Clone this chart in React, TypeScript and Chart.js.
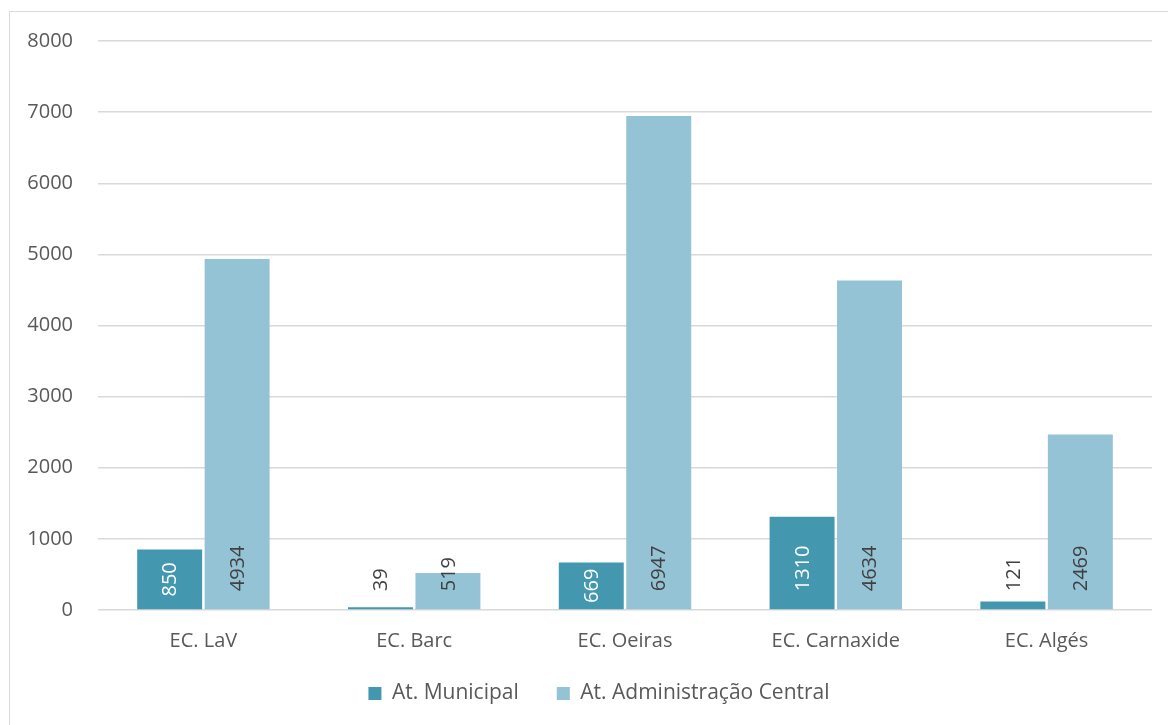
import React, { useEffect, useRef } from "react";
import { Chart, registerables } from "chart.js";

Chart.register(...registerables);

const categories = ["EC. LaV", "EC. Barc", "EC. Oeiras", "EC. Carnaxide", "EC. Algés"];
const seriesNames = ["At. Municipal", "At. Administração Central"];
const municipal = [850, 39, 669, 1310, 121];
const adminCentral = [4934, 519, 6947, 4634, 2469];
const yTicks = [0, 1000, 2000, 3000, 4000, 5000, 6000, 7000, 8000];

const DARK = "#4397AF";
const LIGHT = "#93C3D5";
const TEXT = "#595959";
const FONT = "'Open Sans', sans-serif";

const labelPlugin = {
  id: "barLabels",
  afterDatasetsDraw(chart: any) {
    const ctx = chart.ctx;
    ctx.save();
    ctx.font = `20px ${FONT}`;
    ctx.textAlign = "left";
    ctx.textBaseline = "middle";
    chart.data.datasets.forEach((ds: any, di: number) => {
      const meta = chart.getDatasetMeta(di);
      meta.data.forEach((bar: any, i: number) => {
        const v = ds.data[i];
        const txt = String(v);
        const w = ctx.measureText(txt).width;
        const h = bar.base - bar.y;
        const inside = h > w + 6;
        let offset = 18;
        if (inside) offset = Math.min(18, (h - w) / 2);
        ctx.fillStyle = di === 0 && inside ? "#ffffff" : "#404040";
        ctx.save();
        ctx.translate(bar.x, bar.base - offset);
        ctx.rotate(-Math.PI / 2);
        ctx.fillText(txt, 0, 1);
        ctx.restore();
      });
    });
    ctx.restore();
  },
};

const legendPlugin = {
  id: "legendPlace",
  afterInit(chart: any) {
    const legend = chart.legend;
    if (!legend || legend.__patched) return;
    const orig = legend.fit.bind(legend);
    legend.fit = function () {
      orig();
      this.height = 71;
    };
    legend.__patched = true;
  },
  afterLayout(chart: any) {
    const legend = chart.legend;
    if (!legend) return;
    const dx = 18;
    const dy = -9;
    legend.left += dx;
    legend.right += dx;
    legend.top += dy;
    legend.bottom += dy;
  },
};

export default function App() {
  const ref = useRef<HTMLCanvasElement>(null);
  useEffect(() => {
    document.body.style.margin = "0";
    document.body.style.overflow = "hidden";
    const chart = new Chart(ref.current as HTMLCanvasElement, {
      type: "bar",
      data: {
        labels: categories,
        datasets: [
          {
            label: seriesNames[0],
            data: municipal,
            backgroundColor: DARK,
            borderWidth: 0,
            categoryPercentage: 0.64,
            barPercentage: 0.963,
          },
          {
            label: seriesNames[1],
            data: adminCentral,
            backgroundColor: LIGHT,
            borderWidth: 0,
            categoryPercentage: 0.64,
            barPercentage: 0.963,
          },
        ],
      },
      options: {
        animation: false,
        responsive: false,
        maintainAspectRatio: false,
        layout: { padding: { left: 0, right: 36, top: 29, bottom: 0 } },
        plugins: {
          tooltip: { enabled: false },
          legend: {
            position: "bottom",
            labels: {
              boxWidth: 13,
              boxHeight: 13,
              padding: 38,
              color: TEXT,
              font: { family: FONT, size: 21 },
            },
          },
        },
        scales: {
          x: {
            grid: { display: false, drawTicks: false },
            border: { display: false },
            ticks: { color: TEXT, font: { family: FONT, size: 20 }, padding: 19 },
            afterFit(scale: any) {
              scale.height = 44;
            },
          },
          y: {
            min: 0,
            max: 8000,
            afterBuildTicks(scale: any) {
              scale.ticks = yTicks.map((v) => ({ value: v }));
            },
            grid: { color: "#d9d9d9", lineWidth: 1.5, drawTicks: false },
            border: { display: false },
            ticks: {
              color: TEXT,
              font: { family: FONT, size: 20 },
              padding: 25,
              callback: (v: any) => String(v),
            },
            afterFit(scale: any) {
              scale.width = 88;
              scale.paddingTop = 12;
              scale.paddingBottom = 12;
            },
          },
        },
      },
      plugins: [labelPlugin, legendPlugin],
    } as any);
    return () => chart.destroy();
  }, []);

  return (
    <div style={{ position: "fixed", left: 0, top: 0, width: 1168, height: 725, overflow: "hidden", background: "#fff" }}>
      <div
        style={{
          position: "absolute",
          left: 9,
          top: 11,
          width: 1178,
          height: 720,
          border: "1px solid #d9d9d9",
          boxSizing: "border-box",
        }}
      />
      <canvas
        ref={ref}
        width={1178}
        height={713}
        style={{ position: "absolute", left: 10, top: 12, width: 1178, height: 713 }}
      />
    </div>
  );
}
